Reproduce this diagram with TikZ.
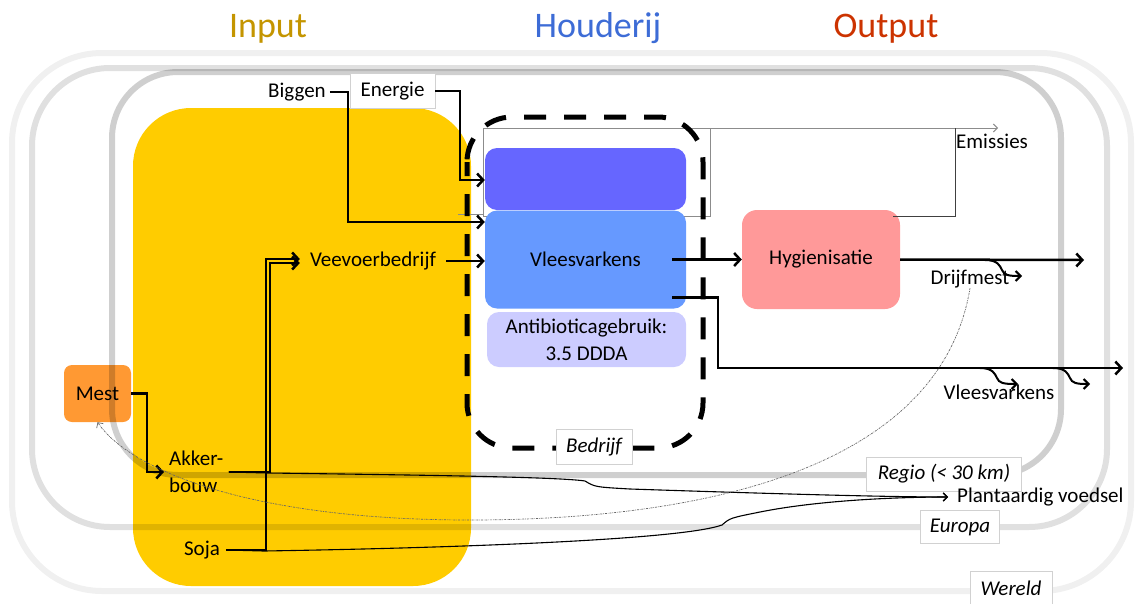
\documentclass[tikz,border=0pt]{standalone}
\usepackage{fontspec}
\setmainfont{Carlito}
\usetikzlibrary{arrows.meta,calc}
\definecolor{ylw}{HTML}{FFCC00}
\definecolor{orng}{HTML}{FF9933}
\definecolor{purp}{HTML}{6666FF}
\definecolor{blu}{HTML}{6699FF}
\definecolor{lav}{HTML}{CCCCFF}
\definecolor{pnk}{HTML}{FF9999}
\definecolor{tin}{HTML}{C49500}
\definecolor{thou}{HTML}{3D6CD6}
\definecolor{tout}{HTML}{CC3300}
\begin{document}
\begin{tikzpicture}[x=1pt,y=-1pt,
  every node/.style={font=\fontsize{21}{25}\selectfont, inner sep=0pt},
  fbox/.style={rounded corners=12pt, align=center},
  tag/.style={draw=black!18, line width=0.8pt, fill=white, font=\fontsize{21}{25}\selectfont\itshape},
  ttl/.style={anchor=base, font=\fontsize{36}{40}\selectfont},
  arr/.style={line width=2.5pt, -{Straight Barb[length=6pt,width=13pt]}},
  thn/.style={line width=1.1pt, -{Straight Barb[length=4pt,width=8pt]}},
  sq/.style={line width=2pt, -{Straight Barb[length=5pt,width=10pt]}},
  frm/.style={line width=6pt, draw=black, draw opacity=#1},
  emis/.style={line width=1pt, draw=black!45},
  dotc/.style={line width=0.7pt, draw=black!60, dash pattern=on 2pt off 1pt on 0.6pt off 1pt, -{Straight Barb[length=4pt,width=8pt]}}
]
\useasboundingbox (0,0) rectangle (1138,603);
% titles
\node[ttl, text=tin] (tinput) at (268,37) {Input};
\node[ttl, text=thou] (thoud) at (598,37) {Houderij};
\node[ttl, text=tout] (toutp) at (886,37) {Output};
% yellow input area and mest
\fill[ylw, rounded corners=58pt] (133,108) rectangle (471,586);
\node[fbox, fill=orng, rounded corners=8pt, minimum width=67pt, minimum height=57pt] (mest) at (97.5,393.5) {Mest};
% frames
\draw[frm=0.06, rounded corners=90pt] (12,53) rectangle (1131,591);
\draw[frm=0.12, rounded corners=78pt] (32,68) rectangle (1107,527);
\draw[frm=0.19, rounded corners=66pt] (112,72) rectangle (1061,475);
% thin emission lines
\coordinate (emisend) at (998,128);
\draw[emis] (483,128) rectangle (710,216);
\draw[emis] (458,214) -- (483,214);
\draw[emis, -{Straight Barb[length=4pt,width=8pt]}] (483,128) -- (emisend);
% boxes
\node[fbox, fill=purp, minimum width=201pt, minimum height=62pt] (purp) at (585.5,179) {};
\node[fbox, fill=blu, minimum width=201pt, minimum height=98pt] (vlees) at (585.5,259.5) {Vleesvarkens};
\node[fbox, fill=lav, minimum width=199pt, minimum height=55pt, font=\fontsize{21}{27}\selectfont] (anti) at (586.5,339.5) {Antibioticagebruik:\\3.5 DDDA};
\node[fbox, fill=pnk, rounded corners=15pt, minimum width=158pt, minimum height=99pt] (hyg) at (821,259.5) {Hygienisatie};
\draw[line width=1pt, draw=black!75] ($(hyg.north east)+(-7,7)$) -| (955,128);
% bedrijf dashed boundary
\draw[line width=5pt, dash pattern=on 22pt off 18pt, dash phase=8pt, rounded corners=45pt] (467,117) rectangle (703,448);
% tags
\node[tag, minimum width=76pt, minimum height=35pt] (bedrijf) at (594,447) {Bedrijf};
\node[tag, minimum width=155pt, minimum height=34pt] (regio) at (944,474) {Regio (< 30 km)};
\node[tag, minimum width=79pt, minimum height=33pt] (europa) at (960,527) {Europa};
\node[tag, minimum width=82pt, minimum height=34pt] (wereld) at (1011,588) {Wereld};
\node[draw=black!18, line width=0.8pt, fill=white, minimum width=85pt, minimum height=35pt] (energie) at (392.5,91) {Energie};
% labels
\node[inner xsep=4pt] (biggen) at (297,92) {Biggen};
\node[inner xsep=10pt] (veevoer) at (373,261) {Veevoerbedrijf};
\node[anchor=west, inner xsep=5pt, align=left, font=\fontsize{21}{27}\selectfont] (akker) at (164,472) {Akker-\\bouw};
\node[inner xsep=6pt] (soja) at (202,550) {Soja};
\node[anchor=west] (emissies) at (956,141) {Emissies};
\node (drijf) at (970,279) {Drijfmest};
\node (vlout) at (999,392) {Vleesvarkens};
\node[anchor=west, inner xsep=9pt] (plant) at (948,497) {Plantaardig voedsel};
\coordinate (drijfend) at (1084,260);
\coordinate (vleesend) at (1123,368);
% connectors
\draw[arr] (biggen.east) -| (348,222) -- (vlees.west |- 0,222);
\draw[arr] (energie.east) -| (460,180) -- (purp.west |- 0,180);
\draw[arr] (veevoer.east) -- (vlees.west |- veevoer.east);
\draw[arr] (soja.east) -| ($(veevoer.west)+(-34,-2)$) -- ($(veevoer.west)+(0,-2)$);
\draw[arr] (akker.east) -| ($(veevoer.west)+(-30,2)$) -- ($(veevoer.west)+(0,2)$);
\draw[arr] (mest.east) -- ++(16,0) |- (akker.west);
\draw[arr] ($(vlees.east)+(-14,0)$) -- (hyg.west);
\draw[arr] (hyg.east) -- (drijfend);
\draw[arr] ($(vlees.east)+(-14,38)$) -| (718,368) -- (vleesend);
\draw[sq] (985,260) .. controls (998,260) and (1000,266) .. (1002,270) .. controls (1004,275) and (1008,276) .. (1022,276);
\draw[sq] (980,368) .. controls (993,368) and (995,374) .. (997,378) .. controls (999,383) and (1003,384) .. (1018,384);
\draw[sq] (1053,368) .. controls (1066,368) and (1068,374) .. (1070,378) .. controls (1072,383) and (1076,384) .. (1090,384);
\draw[thn] (akker.east) -- (268,473) .. controls (420,475) and (560,477) .. (585,481) .. controls (595,487) .. (630,489) .. controls (750,493) and (880,497) .. (plant.west);
\draw[thn] (soja.east) -- (264,551) .. controls (450,548) and (680,540) .. (722,525) .. controls (730,518) .. (760,512) .. controls (820,500) and (900,497) .. (plant.west);
\draw[dotc] (drijf.south) .. controls (940,470) and (700,520) .. (470,520) .. controls (250,520) and (130,470) .. (mest.south);
\end{tikzpicture}
\end{document}
